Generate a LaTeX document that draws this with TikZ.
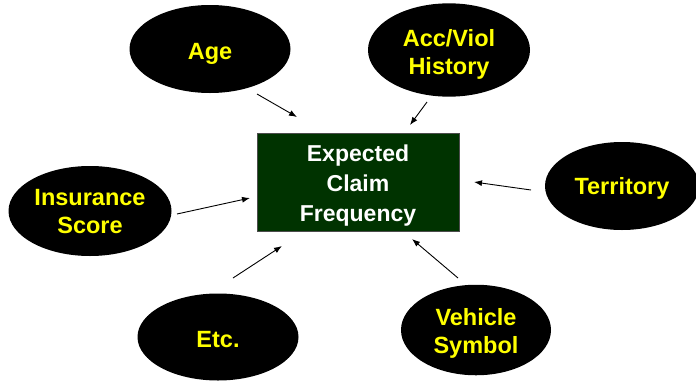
\documentclass[tikz,border=0pt]{standalone}
\usepackage{fontspec}
\setmainfont{Liberation Sans}
\usetikzlibrary{shapes.geometric,arrows.meta}
\definecolor{boxgreen}{RGB}{0,51,0}
\definecolor{lblyellow}{RGB}{255,255,0}
\newcommand\mylbl[2]{\raisebox{0pt}[\dimexpr\height+2\dimexpr#1\relax\relax][\depth]{\begin{tabular}{@{}c@{}}#2\end{tabular}}}
\begin{document}
\begin{tikzpicture}[x=1pt,y=-1pt,
  factor/.style={ellipse,fill=black,draw=none,inner sep=0pt,
    text=lblyellow,font=\fontsize{23.5}{28}\selectfont\bfseries},
  target/.style={rectangle,fill=boxgreen,draw=black!70,line width=0.8pt,inner sep=0pt,
    text=white,font=\fontsize{23}{30}\selectfont\bfseries},
  link/.style={line width=0.9pt,-{Latex[length=8pt,width=6pt]}}]
\useasboundingbox (0,0) rectangle (696,381);
\node[target,minimum width=202pt,minimum height=98pt] (freq) at (358,182) {\mylbl{3pt}{Expected\\Claim\\Frequency}};
\node[factor,minimum width=161pt,minimum height=88pt] (age) at (210,49) {\mylbl{5pt}{Age}};
\node[factor,minimum width=162pt,minimum height=86pt] (acc) at (449,50) {\mylbl{5pt}{Acc/Viol\\History}};
\node[factor,minimum width=154pt,minimum height=88pt] (terr) at (622,186) {\mylbl{3pt}{Territory}};
\node[factor,minimum width=163pt,minimum height=90pt] (ins) at (90,211) {\mylbl{3pt}{Insurance\\Score}};
\node[factor,minimum width=161pt,minimum height=87pt] (etc) at (218,337) {\mylbl{5pt}{Etc.}};
\node[factor,minimum width=150pt,minimum height=90pt] (veh) at (476,330) {\mylbl{4pt}{Vehicle\\Symbol}};
\coordinate (a1) at (257,94);  \coordinate (a2) at (297,117);
\coordinate (b1) at (427,102); \coordinate (b2) at (410,125);
\coordinate (c1) at (531,190); \coordinate (c2) at (474,182);
\coordinate (d1) at (177,214); \coordinate (d2) at (250,198);
\coordinate (e1) at (233,278); \coordinate (e2) at (282,246);
\coordinate (f1) at (458,278); \coordinate (f2) at (412,239);
\draw[link] (a1) -- (a2);
\draw[link] (b1) -- (b2);
\draw[link] (c1) -- (c2);
\draw[link] (d1) -- (d2);
\draw[link] (e1) -- (e2);
\draw[link] (f1) -- (f2);
\end{tikzpicture}
\end{document}
